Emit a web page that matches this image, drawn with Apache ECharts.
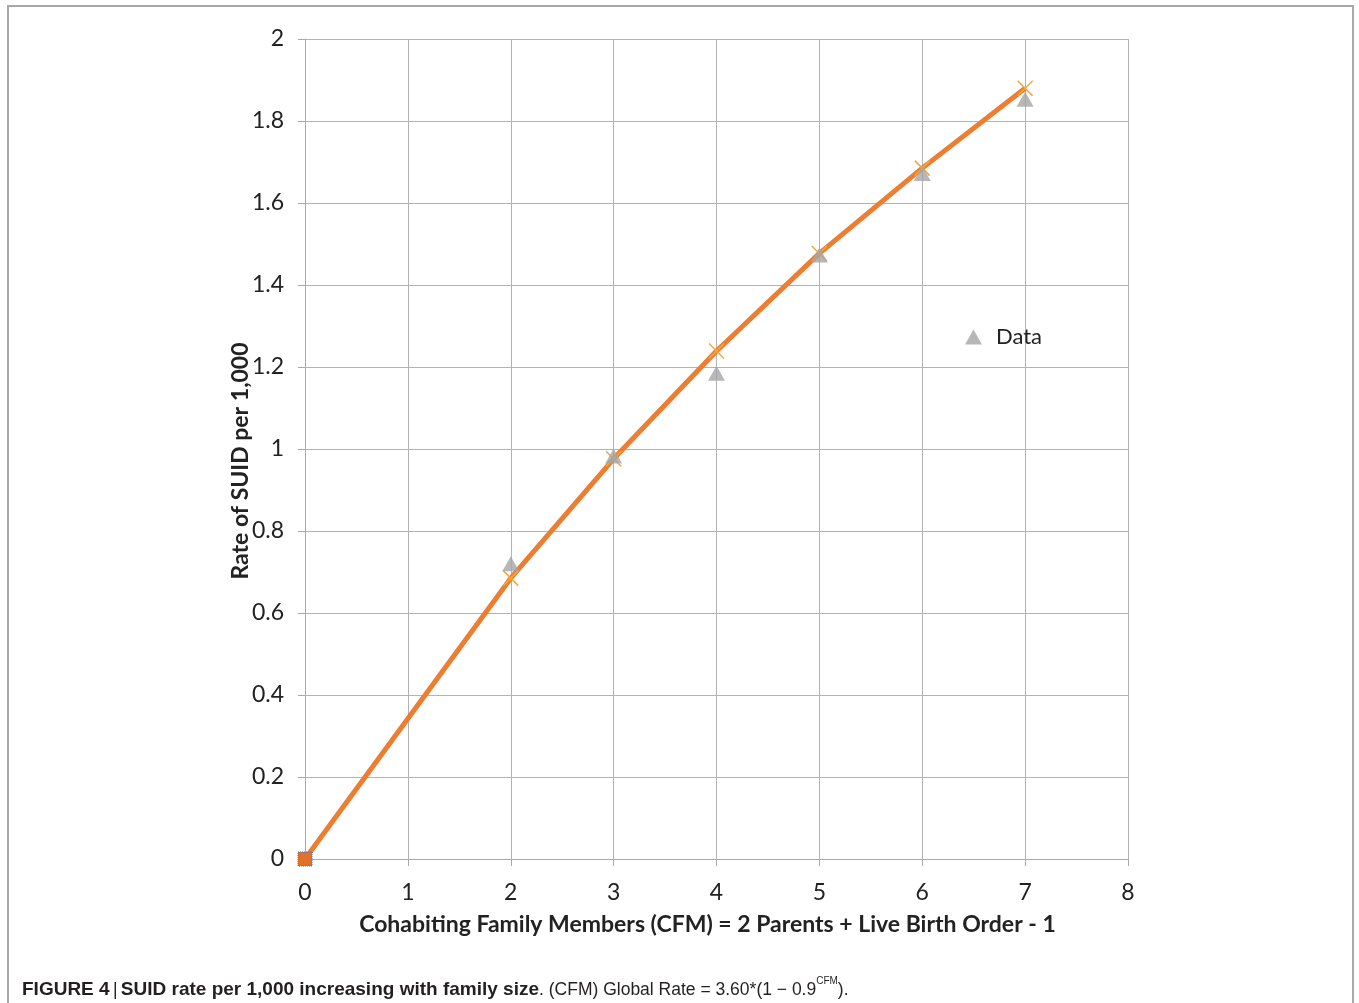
<!DOCTYPE html>
<html><head><meta charset="utf-8">
<script src="https://cdn.jsdelivr.net/npm/echarts@6/dist/echarts.min.js"></script>
<style>html,body{margin:0;padding:0;background:#fff}#c{width:1359px;height:1003px}</style>
</head><body><div id="c"></div>
<script>
const xTicks = [0,1,2,3,4,5,6,7,8];
const yTicks = [0,0.2,0.4,0.6,0.8,1,1.2,1.4,1.6,1.8,2];
const dataX = [2,3,4,5,6,7];
const dataY = [0.72,0.983,1.185,1.473,1.672,1.853];
const modelX = [0,2,3,4,5,6,7];
const modelY = [0,0.685,0.976,1.239,1.477,1.685,1.88];

const xPath = 'path://M0,0L10,10M10,0L0,10';
const chart = echarts.init(document.getElementById('c'));
const font = 'Lato, "Open Sans", sans-serif';
const capFont = '"Liberation Sans Narrow", "Liberation Sans", sans-serif';
const modelData = modelX.map((x,i)=>{
  if (i===0) return {value:[x,modelY[i]], symbol:'rect', symbolSize:14,
    itemStyle:{color:'#E0702A', borderColor:'#4472C4', borderWidth:1, borderType:'dotted'}};
  return [x, modelY[i]];
});
chart.setOption({
  animation:false,
  grid:{left:305, right:231, top:39, bottom:144},
  legend:{
    data:[{name:'Data', icon:'triangle'}],
    left:960, top:321, itemWidth:17, itemHeight:15, itemGap:20,
    textStyle:{fontFamily:font, fontSize:22, color:'#222', padding:[0,0,0,9]}
  },
  xAxis:{type:'value', min:0, max:8, interval:1,
    name:'Cohabiting Family Members (CFM) = 2 Parents + Live Birth Order - 1',
    nameLocation:'middle', nameGap:54,
    nameTextStyle:{fontFamily:font, fontSize:23, fontWeight:'bold', color:'#222', padding:[0,18,0,0]},
    axisLine:{show:true, lineStyle:{color:'#aaa', width:1}},
    axisTick:{show:true, length:7, lineStyle:{color:'#aaa'}},
    axisLabel:{fontFamily:font, fontSize:23, color:'#222', margin:22,
      formatter:v=>xTicks.includes(v)?String(v):''},
    splitLine:{show:true, lineStyle:{color:'#b3b3b3', width:1}}
  },
  yAxis:{type:'value', min:0, max:2, interval:0.2,
    name:'Rate of SUID per 1,000', nameLocation:'middle', nameGap:53, nameRotate:90,
    nameMoveOverlap:false,
    nameTextStyle:{fontFamily:font, fontSize:23, fontWeight:'bold', color:'#222', padding:[0,24,0,0]},
    axisLine:{show:true, lineStyle:{color:'#aaa', width:1}},
    axisTick:{show:true, length:7, lineStyle:{color:'#aaa'}},
    axisLabel:{fontFamily:font, fontSize:23, color:'#222', margin:21,
      formatter:v=>{const t=yTicks.find(y=>Math.abs(y-v)<1e-9);return t===undefined?'':String(t);}},
    splitLine:{show:true, lineStyle:{color:'#b3b3b3', width:1}}
  },
  series:[
    {name:'Model', type:'line', data:modelData, z:3,
      lineStyle:{color:'#ED7D31', width:5},
      symbol:xPath, symbolSize:15, showAllSymbol:true,
      itemStyle:{color:'rgba(0,0,0,0)', borderColor:'#F2A93B', borderWidth:1.5}},
    {name:'Data', type:'scatter', data:dataX.map((x,i)=>[x,dataY[i]]), z:4,
      symbol:'triangle', symbolSize:[17,15],
      itemStyle:{color:'#A5A5A5'}}
  ],
  graphic:[
    {type:'rect', shape:{x:8, y:6, width:1345, height:1010},
      style:{fill:'none', stroke:'#a8a8a8', lineWidth:2}, silent:true},
    {type:'text', left:22, top:976, style:{
      text:'{b|FIGURE 4} {n||} {b|SUID rate per 1,000 increasing with family size}{n|. (CFM) Global Rate = 3.60*(1 − 0.9}{s|CFM}{n|).}',
      rich:{
        b:{fontFamily:capFont, fontSize:19, fontWeight:'bold', fill:'#231f20', verticalAlign:'bottom', lineHeight:23},
        n:{fontFamily:capFont, fontSize:17.5, fill:'#231f20', verticalAlign:'bottom', lineHeight:23},
        s:{fontFamily:capFont, fontSize:10, fill:'#231f20', verticalAlign:'top', lineHeight:23, padding:[0,0,10,0]}
      }}}
  ]
});
</script></body></html>
